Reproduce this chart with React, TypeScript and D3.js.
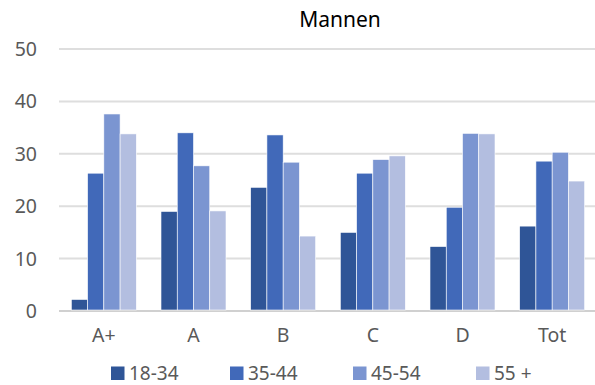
import React from "react";
import * as d3 from "d3";

const categories = ["A+", "A", "B", "C", "D", "Tot"];
const seriesNames = ["18-34", "35-44", "45-54", "55 +"];
const s1834 = [2.2, 19.0, 23.6, 15.0, 12.3, 16.2];
const s3544 = [26.3, 34.0, 33.6, 26.3, 19.8, 28.6];
const s4554 = [37.6, 27.7, 28.4, 28.9, 33.9, 30.3];
const s55 = [33.8, 19.1, 14.3, 29.6, 33.8, 24.8];
const yTicks = [0, 10, 20, 30, 40, 50];
const colors = ["#2F5597", "#4169B9", "#7B95D1", "#B3BEE0"];

const W = 595;
const H = 385;
const plotLeft = 59;
const plotRight = 597;
const plotTop = 49;
const plotBottom = 311;
const FONT = "'Noto Sans', 'Open Sans', sans-serif";

export default function App() {
  const seriesData = [s1834, s3544, s4554, s55];
  const y = d3.scaleLinear().domain([0, 50]).range([plotBottom, plotTop]);
  const x0 = d3.scaleBand<string>().domain(categories).range([plotLeft, plotRight]).padding(0);
  const groupW = x0.bandwidth() * 0.725;
  const offset = (x0.bandwidth() - groupW) / 2;
  const x1 = d3.scaleBand<string>().domain(seriesNames).range([0, groupW]).padding(0);

  const legendX = [111, 230, 353, 476];

  return (
    <svg
      width={W}
      height={H}
      style={{ position: "absolute", left: 0, top: 0, background: "#fff" }}
      fontFamily={FONT}
    >
      <text x={340} y={27} textAnchor="middle" fontSize={21} fill="#000">
        Mannen
      </text>
      {yTicks.map((t) => (
        <g key={t}>
          <line
            x1={plotLeft}
            x2={W}
            y1={y(t)}
            y2={y(t)}
            stroke={t === 0 ? "#d0d0d0" : "#dedede"}
            strokeWidth={2}
          />
          <text
            x={37}
            y={y(t)}
            dy="0.36em"
            textAnchor="end"
            fontSize={19.5}
            fill="#595959"
          >
            {t}
          </text>
        </g>
      ))}
      {categories.map((c, ci) => (
        <g key={c} transform={`translate(${(x0(c) as number) + offset},0)`}>
          {seriesNames.map((s, si) => {
            const v = seriesData[si][ci];
            return (
              <rect
                key={s}
                x={x1(s) as number}
                y={y(v)}
                width={x1.bandwidth()}
                height={plotBottom - 1 - y(v)}
                fill={colors[si]}
                stroke="#fff"
                strokeWidth={0.6}
              />
            );
          })}
        </g>
      ))}
      {categories.map((c) => (
        <text
          key={c}
          x={(x0(c) as number) + x0.bandwidth() / 2}
          y={342}
          textAnchor="middle"
          fontSize={19.5}
          fill="#595959"
        >
          {c}
        </text>
      ))}
      {seriesNames.map((s, i) => (
        <g key={s} transform={`translate(${legendX[i]},366.5)`}>
          <rect x={0} y={0} width={13.5} height={13.5} fill={colors[i]} />
          <text x={18} y={13.3} fontSize={19} fill="#595959">
            {s}
          </text>
        </g>
      ))}
    </svg>
  );
}
